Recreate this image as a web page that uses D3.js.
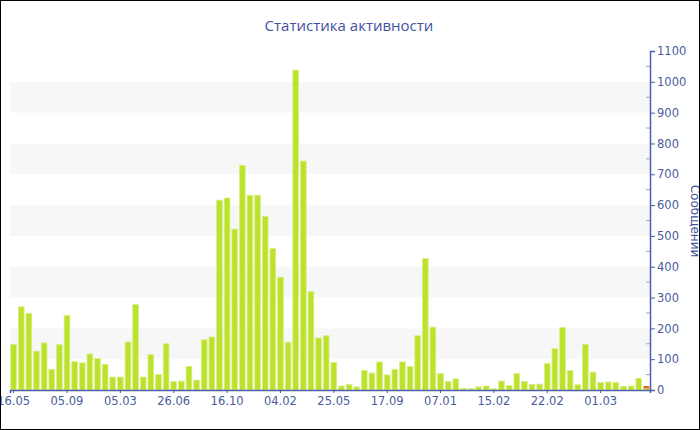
<!DOCTYPE html>
<html>
<head>
<meta charset="utf-8">
<script src="https://cdn.jsdelivr.net/npm/d3@7"></script>
<style>
  body { margin: 0; background: #fff; }
  svg { display: block; }
  .tick text { font-family: "DejaVu Sans", Verdana, sans-serif; font-size: 11.5px; fill: #4a5b9c; }
</style>
</head>
<body>
<div id="chart"></div>
<script>
// Chart size and plot box.
const width = 700;
const height = 430;
const plot = { left: 10, right: 650, top: 51, bottom: 390 };

// Messages per period (green) and the small extra part on the last bar (red).
const messages = [148, 270, 249, 126, 153, 67, 147, 242, 92, 88, 117, 102, 83, 42, 42, 156,
  277, 42, 115, 50, 150, 27, 29, 77, 32, 163, 172, 616, 623, 522, 729, 632, 632, 563, 459,
  366, 155, 1038, 743, 319, 169, 176, 89, 13, 18, 10, 64, 55, 91, 49, 67, 91, 76, 176, 427,
  204, 53, 27, 36, 5, 5, 10, 13, 4, 29, 15, 54, 28, 18, 19, 86, 134, 203, 63, 17, 148, 58,
  24, 26, 24, 12, 13, 38, 5];
const extraIndex = [83];
const extraValues = [8];

// Date labels shown under every 7th bar.
const tickLabels = ["16.05", "05.09", "05.03", "26.06", "16.10", "04.02", "25.05", "17.09",
  "07.01", "15.02", "22.02", "01.03"];
const tickEvery = 7;

const yTicks = d3.range(0, 1101, 100);

const svg = d3.select("#chart").append("svg")
  .attr("width", width)
  .attr("height", height);

const x = d3.scaleBand()
  .domain(d3.range(messages.length))
  .range([plot.left, plot.right])
  .paddingInner(0.25)
  .paddingOuter(0.1);

const y = d3.scaleLinear()
  .domain([0, 1100])
  .range([plot.bottom, plot.top]);

// Alternating light bands.
svg.append("g")
  .selectAll("rect")
  .data(yTicks.filter(d => d % 200 === 100 && d < 1100))
  .join("rect")
  .attr("x", plot.left)
  .attr("width", plot.right - plot.left)
  .attr("y", d => y(d + 100))
  .attr("height", d => y(d) - y(d + 100))
  .attr("fill", "#f7f7f7");

// Bars.
svg.append("g")
  .selectAll("rect")
  .data(messages)
  .join("rect")
  .attr("x", (d, i) => x(i))
  .attr("width", x.bandwidth())
  .attr("y", d => y(d))
  .attr("height", d => y(0) - y(d))
  .attr("fill", "#bde22e")
  .attr("stroke", "#d8ef86")
  .attr("stroke-width", 0.8);

// Red part stacked on top of the last bar.
svg.append("g")
  .selectAll("rect")
  .data(extraIndex)
  .join("rect")
  .attr("x", d => x(d))
  .attr("width", x.bandwidth())
  .attr("y", (d, i) => y(messages[d] + extraValues[i]))
  .attr("height", (d, i) => y(0) - y(extraValues[i]))
  .attr("fill", "#e8652b");

// X axis.
const xAxis = d3.axisBottom(x)
  .tickValues(d3.range(0, messages.length, tickEvery))
  .tickFormat(i => tickLabels[i / tickEvery])
  .tickSize(3)
  .tickPadding(4);

const gx = svg.append("g")
  .attr("transform", `translate(0,${plot.bottom})`)
  .call(xAxis);
gx.select(".domain").attr("stroke", "#4b5fa6").attr("stroke-width", 1.5);
gx.selectAll(".tick line").attr("stroke", "#4b5fa6");

// Right Y axis with minor ticks.
svg.append("g")
  .attr("transform", `translate(${plot.right},0)`)
  .selectAll("line")
  .data(d3.range(50, 1100, 100))
  .join("line")
  .attr("x1", -4).attr("x2", 0)
  .attr("y1", d => y(d)).attr("y2", d => y(d))
  .attr("stroke", "#9aa3c4");

const yAxis = d3.axisRight(y)
  .tickValues(yTicks)
  .tickFormat(d3.format("d"))
  .tickSize(5)
  .tickPadding(2);

const gy = svg.append("g")
  .attr("transform", `translate(${plot.right},0)`)
  .call(yAxis);
gy.select(".domain").attr("stroke", "#4b5fa6").attr("stroke-width", 1.5);
gy.selectAll(".tick line").attr("stroke", "#4b5fa6");

// Title.
svg.append("text")
  .attr("x", 349)
  .attr("y", 31)
  .attr("text-anchor", "middle")
  .attr("font-family", "'Open Sans', sans-serif")
  .attr("font-size", 15)
  .attr("fill", "#3f52a0")
  .text("Статистика активности");

// Y axis title.
svg.append("text")
  .attr("transform", "translate(691,221) rotate(90)")
  .attr("text-anchor", "middle")
  .attr("font-family", "'DejaVu Sans', sans-serif")
  .attr("font-size", 12)
  .attr("fill", "#3f52a0")
  .text("Сообщений");

// Frame.
svg.append("rect")
  .attr("x", 0.5).attr("y", 0.5)
  .attr("width", width - 1).attr("height", height - 1)
  .attr("fill", "none")
  .attr("stroke", "#000");
</script>
</body>
</html>
